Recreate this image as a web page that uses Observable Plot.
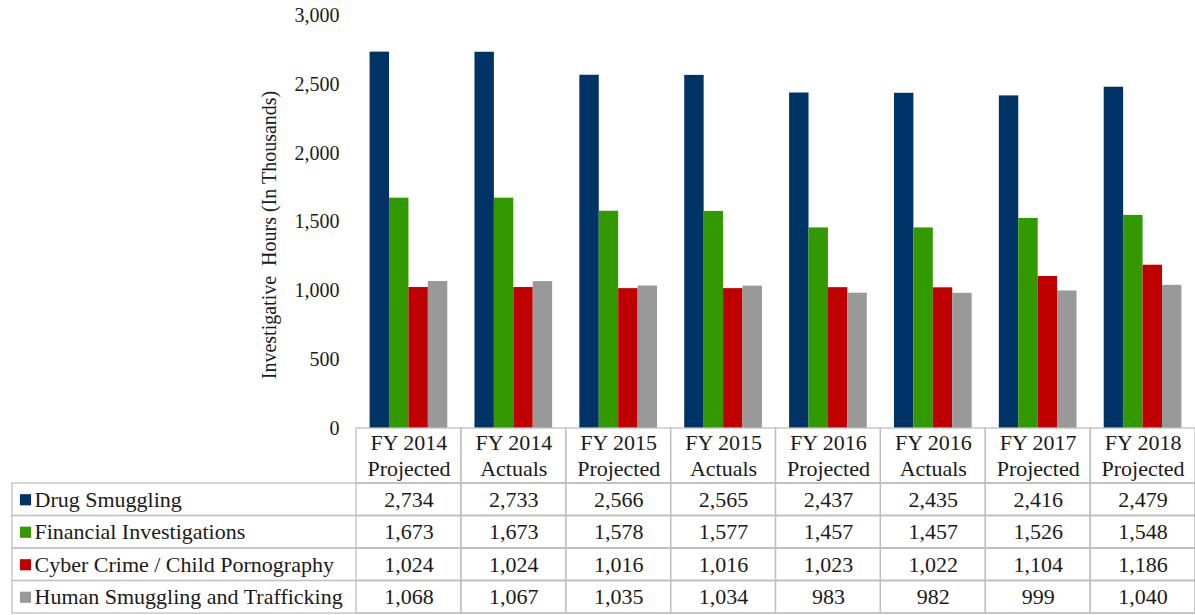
<!DOCTYPE html>
<html>
<head>
<meta charset="utf-8">
<script src="https://cdn.jsdelivr.net/npm/d3@7"></script>
<script src="https://cdn.jsdelivr.net/npm/@observablehq/plot@0.6"></script>
<style>
  html, body { margin: 0; padding: 0; background: #fff; }
  #chart svg, #table svg { display: block; overflow: visible; }
</style>
</head>
<body>
<div id="chart"></div>
<div id="table"></div>
<script>
const categories = ["FY 2014 Projected", "FY 2014 Actuals", "FY 2015 Projected", "FY 2015 Actuals",
  "FY 2016 Projected", "FY 2016 Actuals", "FY 2017 Projected", "FY 2018 Projected"];
const tickLabels = ["FY 2014\nProjected", "FY 2014\nActuals", "FY 2015\nProjected", "FY 2015\nActuals",
  "FY 2016\nProjected", "FY 2016\nActuals", "FY 2017\nProjected", "FY 2018\nProjected"];
const series = ["Drug Smuggling", "Financial Investigations", "Cyber Crime / Child Pornography", "Human Smuggling and Trafficking"];
const colors = ["#003366", "#339900", "#c00000", "#999999"];
const drugSmuggling = [2734, 2733, 2566, 2565, 2437, 2435, 2416, 2479];
const financialInvestigations = [1673, 1673, 1578, 1577, 1457, 1457, 1526, 1548];
const cyberCrime = [1024, 1024, 1016, 1016, 1023, 1022, 1104, 1186];
const humanSmuggling = [1068, 1067, 1035, 1034, 983, 982, 999, 1040];
const yTicks = [0, 500, 1000, 1500, 2000, 2500, 3000];

const seriesValues = [drugSmuggling, financialInvestigations, cyberCrime, humanSmuggling];
const data = [];
series.forEach((s, si) => categories.forEach((c, ci) => data.push({category: c, series: s, value: seriesValues[si][ci]})));

const font = "'Liberation Serif', 'Times New Roman', serif";
const ink = "#1a1a1a";
const border = "#bfbfbf";
const labelOf = new Map(categories.map((c, i) => [c, tickLabels[i]]));

const chart = Plot.plot({
  width: 1195,
  height: 483,
  marginLeft: 356,
  marginRight: 0,
  marginTop: 15,
  marginBottom: 55,
  style: {fontFamily: font, color: ink, background: "#fff"},
  fx: {domain: categories, padding: 0, round: false},
  x: {domain: series, paddingInner: 0, paddingOuter: 0.7, round: false, axis: null},
  y: {domain: [0, 3000]},
  color: {domain: series, range: colors},
  marks: [
    Plot.barY(data, {fx: "category", x: "series", y: "value", fill: "series", inset: 0}),
    Plot.rect([0], {y1: 0, y2: 0, insetBottom: -55, stroke: border, strokeWidth: 1.3, fill: "none"}),
    Plot.axisY({
      ticks: yTicks, tickFormat: d3.format(","), tickSize: 0, tickPadding: 17,
      fontSize: 20, fill: ink, stroke: border, line: true,
      label: "Investigative  Hours (In Thousands)", labelAnchor: "center", labelArrow: "none", labelOffset: 95
    }),
    Plot.axisFx({
      anchor: "bottom", tickSize: 0, tickPadding: 3, fontSize: 22, lineHeight: 1.18,
      tickFormat: d => labelOf.get(d), label: null, fill: ink
    })
  ]
});
// y-axis title: size and vertical centring as in the reference
chart.querySelectorAll("text").forEach(t => {
  if (t.textContent.startsWith("Investigative")) {
    t.setAttribute("font-size", 20);
    t.setAttribute("dx", -13);
  }
});
document.getElementById("chart").appendChild(chart);

const table = Plot.plot({
  width: 1195,
  height: 132,
  marginLeft: 356,
  marginRight: 0,
  marginTop: 0,
  marginBottom: 2,
  style: {fontFamily: font, color: ink, background: "#fff"},
  x: {domain: categories, padding: 0, round: false, axis: null},
  y: {domain: series, padding: 0, round: false, axis: null},
  marks: [
    Plot.cell(series, {y: d => d, insetLeft: -344, inset: 0, stroke: border, strokeWidth: 1.3, fill: "none"}),
    Plot.cell(data, {x: "category", y: "series", inset: 0, stroke: border, strokeWidth: 1.3, fill: "none"}),
    Plot.text(data, {x: "category", y: "series", text: d => d3.format(",")(d.value), fontSize: 22, fill: ink}),
    Plot.dot(series, {y: d => d, frameAnchor: "left", dx: -331, symbol: "square", r: 6.3, fill: (d, i) => colors[i]}),
    Plot.text(series, {y: d => d, frameAnchor: "left", dx: -322, textAnchor: "start", text: d => d, fontSize: 22, fill: ink})
  ]
});
document.getElementById("table").appendChild(table);
</script>
</body>
</html>
